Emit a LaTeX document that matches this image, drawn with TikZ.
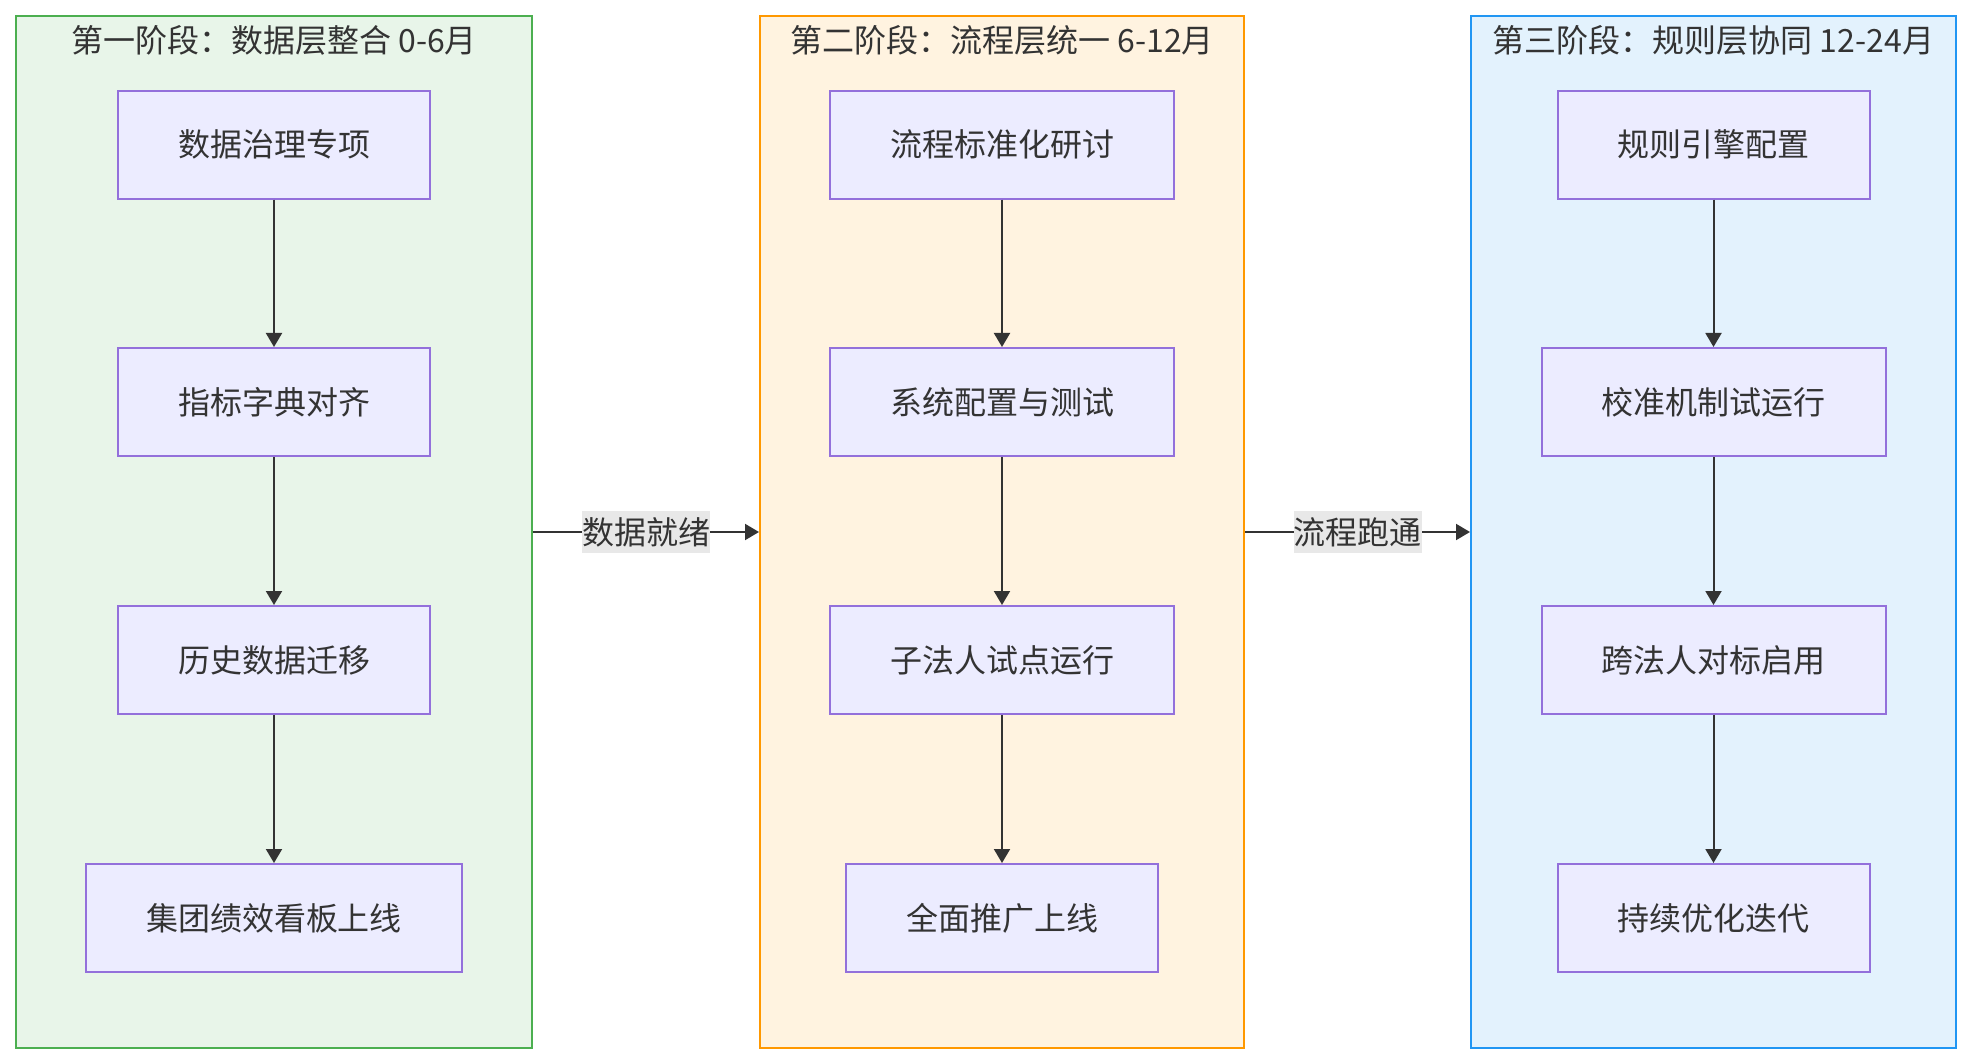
\documentclass[tikz,border=0pt]{standalone}
\usepackage{fontspec}
\setmainfont{Noto Sans CJK SC}
\usepackage{tikz}
\usetikzlibrary{arrows.meta}

\definecolor{inkgray}{HTML}{333333}
\definecolor{boxfill}{HTML}{ECECFF}
\definecolor{boxline}{HTML}{9370DB}
\definecolor{greenfill}{HTML}{E8F5E9}
\definecolor{greenline}{HTML}{4CAF50}
\definecolor{orangefill}{HTML}{FFF3E0}
\definecolor{orangeline}{HTML}{FF9800}
\definecolor{bluefill}{HTML}{E3F2FD}
\definecolor{blueline}{HTML}{2196F3}
\definecolor{labelbg}{HTML}{E8E8E8}

\begin{document}
\begin{tikzpicture}[
    x=0.5pt, y=-0.5pt,
    phase/.style={rectangle, line width=1pt, inner sep=0pt},
    stepbox/.style={rectangle, draw=boxline, fill=boxfill, line width=1pt, inner xsep=30pt, minimum height=54pt, text=inkgray, font=\fontsize{16pt}{19pt}\selectfont},
    title/.style={text=inkgray, font=\fontsize{16pt}{19pt}\selectfont},
    arrow/.style={-{Triangle[length=7pt, width=8pt]}, line width=1pt, color=inkgray},
    elabel/.style={fill=labelbg, inner xsep=0pt, minimum height=20.5pt, text=inkgray, font=\fontsize{16pt}{19pt}\selectfont}
]
\useasboundingbox (0,0) rectangle (1972,1064);

% Phase frames
\node[phase, draw=greenline, fill=greenfill, minimum width=258pt, minimum height=516pt] (p1) at (274,532) {};
\node[phase, draw=orangeline, fill=orangefill, minimum width=242pt, minimum height=516pt] (p2) at (1002,532) {};
\node[phase, draw=blueline, fill=bluefill, minimum width=242.5pt, minimum height=516pt] (p3) at (1713.5,532) {};

% Phase 1: data layer
\node[title] (t1) at (274,40) {第一阶段：数据层整合 0-6月};
\node[stepbox] (a1) at (274,144.6) {数据治理专项};
\node[stepbox] (a2) at (274,402) {指标字典对齐};
\node[stepbox] (a3) at (274,660) {历史数据迁移};
\node[stepbox] (a4) at (274,918) {集团绩效看板上线};
\draw[arrow] (a1) -- (a2);
\draw[arrow] (a2) -- (a3);
\draw[arrow] (a3) -- (a4);

% Phase 2: process layer
\node[title] (t2) at (1002,40) {第二阶段：流程层统一 6-12月};
\node[stepbox] (b1) at (1002,144.6) {流程标准化研讨};
\node[stepbox] (b2) at (1002,402) {系统配置与测试};
\node[stepbox] (b3) at (1002,660) {子法人试点运行};
\node[stepbox] (b4) at (1002,918) {全面推广上线};
\draw[arrow] (b1) -- (b2);
\draw[arrow] (b2) -- (b3);
\draw[arrow] (b3) -- (b4);

% Phase 3: rule layer
\node[title] (t3) at (1713.5,40) {第三阶段：规则层协同 12-24月};
\node[stepbox] (c1) at (1713.5,144.6) {规则引擎配置};
\node[stepbox] (c2) at (1713.5,402) {校准机制试运行};
\node[stepbox] (c3) at (1713.5,660) {跨法人对标启用};
\node[stepbox] (c4) at (1713.5,918) {持续优化迭代};
\draw[arrow] (c1) -- (c2);
\draw[arrow] (c2) -- (c3);
\draw[arrow] (c3) -- (c4);

% Hand-over between phases
\draw[arrow] (p1) -- node[elabel] {数据就绪} (p2);
\draw[arrow] (p2) -- node[elabel] {流程跑通} (p3);

\end{tikzpicture}
\end{document}
